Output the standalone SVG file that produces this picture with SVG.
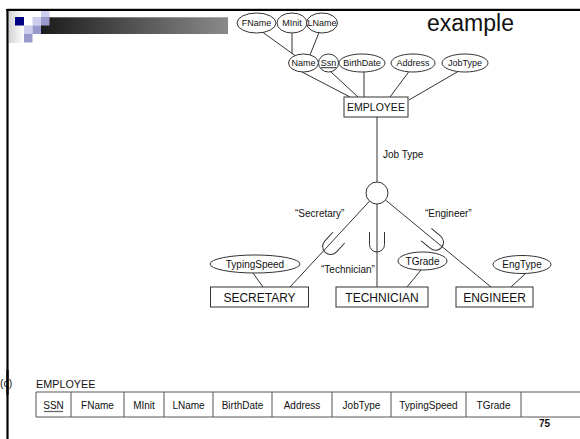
<svg xmlns="http://www.w3.org/2000/svg" width="580" height="439" viewBox="0 0 580 439">
  <defs>
    <linearGradient id="barGrad" x1="0" y1="0" x2="1" y2="0">
      <stop offset="0" stop-color="#1c1c1c"/>
      <stop offset="1" stop-color="#8a8a8a"/>
    </linearGradient>
    <linearGradient id="fadeGrad" x1="0" y1="0" x2="1" y2="0">
      <stop offset="0" stop-color="#d4d4d4"/>
      <stop offset="1" stop-color="#ffffff"/>
    </linearGradient>
    <style>
      .ent { fill: #fff; stroke: #333; stroke-width: 1; }
      .attr { fill: #fff; stroke: #333; stroke-width: 1; }
      .ln { fill: none; stroke: #333; stroke-width: 1; }
      .t { font-family: "Liberation Sans", Arial, sans-serif; fill: #111; }
      .ta { font-size: 10px; text-anchor: middle; }
      .ts { font-size: 9px; text-anchor: middle; }
      .te { font-size: 12px; text-anchor: middle; }
      .tl { font-size: 10px; }
      .tc { font-size: 10px; text-anchor: middle; }
      .cell { fill: none; stroke: #555; stroke-width: 1; }
    </style>
  </defs>
  <rect width="580" height="439" fill="#fff"/>

  <!-- slide frame -->
  <g id="frame">
    <line x1="7" y1="8.5" x2="580" y2="8.5" stroke="#c8c8c8" stroke-width="1"/>
    <line x1="6" y1="10" x2="580" y2="10" stroke="#000" stroke-width="2.2"/>
    <line x1="7.5" y1="9" x2="7.5" y2="439" stroke="#000" stroke-width="2.2"/>
  </g>

  <!-- title decoration -->
  <g id="logo">
    <rect x="9" y="11" width="15" height="32" fill="url(#fadeGrad)"/>
    <rect x="41" y="17.3" width="187" height="16.7" fill="url(#barGrad)"/>
    <rect x="15" y="17" width="9" height="8.5" fill="#000080"/>
    <rect x="32.5" y="17" width="8.5" height="8.5" fill="#ccccec"/>
    <rect x="41" y="11" width="8.5" height="6" fill="#ccccec"/>
    <rect x="41" y="17" width="8.5" height="8.5" fill="#9999cc"/>
    <rect x="24" y="25.5" width="8.5" height="8.5" fill="#ccccec"/>
    <rect x="32.5" y="25.5" width="8.5" height="8.5" fill="#9999cc"/>
    <rect x="24" y="34" width="8.5" height="8.5" fill="#9999cc"/>
  </g>

  <text id="title" class="t" x="427" y="31" font-size="23">example</text>

  <!-- connectors -->
  <g id="connectors">
    <line class="ln" x1="263" y1="32.5" x2="295" y2="55.5"/>
    <line class="ln" x1="292" y1="33" x2="292" y2="54"/>
    <line class="ln" x1="319" y1="32.5" x2="310" y2="55"/>
    <line class="ln" x1="302" y1="72" x2="350" y2="97"/>
    <line class="ln" x1="331" y1="72" x2="358" y2="97"/>
    <line class="ln" x1="364" y1="72" x2="364" y2="97"/>
    <line class="ln" x1="409" y1="71.5" x2="390" y2="97"/>
    <line class="ln" x1="458" y1="71.5" x2="409" y2="100"/>
    <line class="ln" x1="377" y1="117" x2="377" y2="182"/>
    <line class="ln" x1="369.6" y1="201.1" x2="290" y2="287"/>
    <line class="ln" x1="377" y1="204" x2="377" y2="287"/>
    <line class="ln" x1="385.5" y1="200" x2="491" y2="287"/>
    <line class="ln" x1="253" y1="273" x2="263" y2="287"/>
    <line class="ln" x1="421" y1="270" x2="407" y2="287"/>
    <line class="ln" x1="525" y1="274" x2="511" y2="287"/>
    <!-- subset marks -->
    <path class="ln" d="M-8,-10 V2 A8,8 0 0 0 8,2 V-10" transform="translate(332,245) rotate(42.4)"/>
    <path class="ln" d="M-7.5,-10 V2.5 A7.5,7.5 0 0 0 7.5,2.5 V-10" transform="translate(377,242)"/>
    <path class="ln" d="M-8,-10 V2 A8,8 0 0 0 8,2 V-10" transform="translate(434,241) rotate(-50.5)"/>
  </g>

  <!-- attributes of EMPLOYEE -->
  <g id="attr-fname"><ellipse class="attr" cx="256.5" cy="23" rx="19.5" ry="10"/><text class="t ts" x="256.5" y="26.3">FName</text></g>
  <g id="attr-minit"><ellipse class="attr" cx="292" cy="23" rx="15" ry="10"/><text class="t ts" x="292" y="26.3">MInit</text></g>
  <g id="attr-lname"><ellipse class="attr" cx="322" cy="23" rx="15.5" ry="10"/><text class="t ts" x="322" y="26.3">LName</text></g>
  <g id="attr-name"><ellipse class="attr" cx="303.5" cy="63" rx="15" ry="9"/><text class="t ts" x="303.5" y="66.3">Name</text></g>
  <g id="attr-ssn"><ellipse class="attr" cx="328.5" cy="63" rx="10" ry="9"/><text class="t ts" x="328.5" y="66.3" text-decoration="underline">Ssn</text></g>
  <g id="attr-birthdate"><ellipse class="attr" cx="362" cy="63" rx="23" ry="9"/><text class="t ts" x="362" y="66.3">BirthDate</text></g>
  <g id="attr-address"><ellipse class="attr" cx="413" cy="63" rx="22" ry="9"/><text class="t ts" x="413" y="66.3">Address</text></g>
  <g id="attr-jobtype"><ellipse class="attr" cx="465" cy="63" rx="23" ry="9"/><text class="t ts" x="465" y="66.3">JobType</text></g>

  <g id="employee"><rect class="ent" x="344" y="97" width="64" height="20"/><text class="t" x="376" y="110.8" font-size="10.5" text-anchor="middle">EMPLOYEE</text></g>

  <text id="lbl-jobtype" class="t tl" x="383" y="158">Job Type</text>
  <g id="spec-circle"><circle class="ent" cx="377" cy="193" r="11"/></g>

  <text id="lbl-secretary" class="t tl" x="295" y="217">“Secretary”</text>
  <text id="lbl-engineer" class="t tl" x="425" y="217">“Engineer”</text>
  <text id="lbl-technician" class="t tl" x="321" y="273">“Technician”</text>

  <g id="attr-typingspeed"><ellipse class="attr" cx="255" cy="264" rx="45" ry="9"/><text class="t ta" x="255" y="267.6">TypingSpeed</text></g>
  <g id="attr-tgrade"><ellipse class="attr" cx="422.5" cy="261" rx="24.5" ry="9"/><text class="t ta" x="422.5" y="264.6">TGrade</text></g>
  <g id="attr-engtype"><ellipse class="attr" cx="522" cy="264.5" rx="29" ry="9"/><text class="t ta" x="522" y="268.1">EngType</text></g>

  <g id="secretary"><rect class="ent" x="210.5" y="287" width="98" height="20"/><text class="t te" x="259.5" y="301.5">SECRETARY</text></g>
  <g id="technician"><rect class="ent" x="336" y="287" width="92" height="20"/><text class="t te" x="382" y="301.5">TECHNICIAN</text></g>
  <g id="engineer"><rect class="ent" x="456" y="287" width="77" height="20"/><text class="t te" x="494.5" y="301.5">ENGINEER</text></g>

  <!-- relation schema -->
  <text id="lbl-c" class="t" x="0" y="387" font-size="10.5">(c)</text>
  <line x1="7.5" y1="370" x2="7.5" y2="395" stroke="#000" stroke-width="2.2"/>
  <text id="lbl-employee-rel" class="t" x="36" y="388" font-size="10.8">EMPLOYEE</text>
  <g id="employee-table">
    <line class="cell" x1="36" y1="392" x2="580" y2="392"/>
    <line class="cell" x1="36" y1="417" x2="580" y2="417"/>
    <line class="cell" x1="36" y1="392" x2="36" y2="417"/>
    <line class="cell" x1="71" y1="392" x2="71" y2="417"/>
    <line class="cell" x1="124" y1="392" x2="124" y2="417"/>
    <line class="cell" x1="164" y1="392" x2="164" y2="417"/>
    <line class="cell" x1="213" y1="392" x2="213" y2="417"/>
    <line class="cell" x1="272" y1="392" x2="272" y2="417"/>
    <line class="cell" x1="332" y1="392" x2="332" y2="417"/>
    <line class="cell" x1="391" y1="392" x2="391" y2="417"/>
    <line class="cell" x1="466" y1="392" x2="466" y2="417"/>
    <line class="cell" x1="521" y1="392" x2="521" y2="417"/>
    <text class="t tc" x="53.5" y="408.5">SSN</text>
    <line x1="44" y1="411.5" x2="63" y2="411.5" stroke="#666" stroke-width="1.3"/>
    <text class="t tc" x="97.5" y="408.5">FName</text>
    <text class="t tc" x="144" y="408.5">MInit</text>
    <text class="t tc" x="188.5" y="408.5">LName</text>
    <text class="t tc" x="242.5" y="408.5">BirthDate</text>
    <text class="t tc" x="302" y="408.5">Address</text>
    <text class="t tc" x="361.5" y="408.5">JobType</text>
    <text class="t tc" x="428.5" y="408.5">TypingSpeed</text>
    <text class="t tc" x="493.5" y="408.5">TGrade</text>
  </g>

  <text id="page-number" class="t" x="539" y="427" font-size="10" font-weight="bold">75</text>
</svg>
